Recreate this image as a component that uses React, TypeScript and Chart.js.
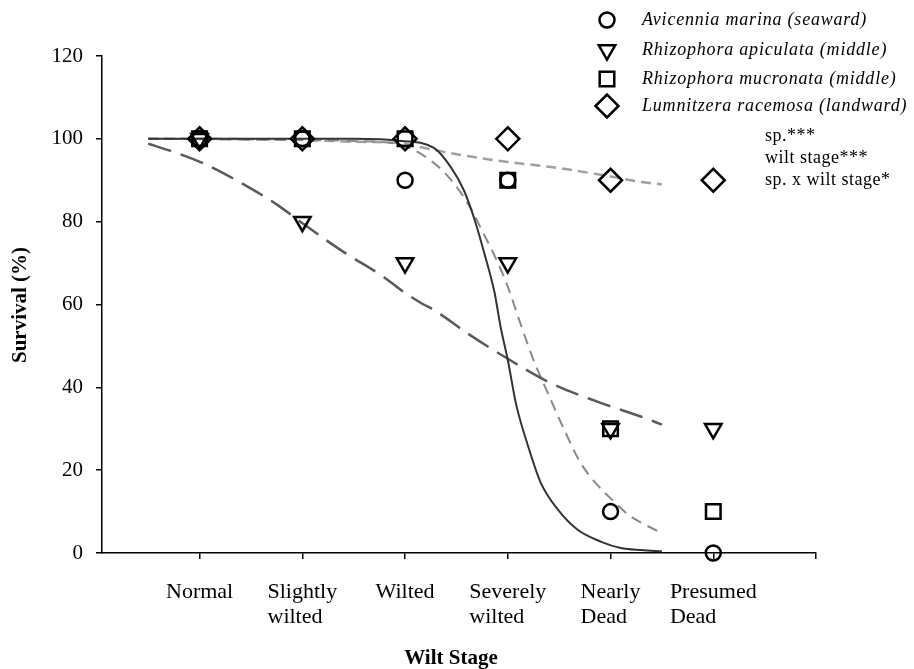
import React, { useEffect, useRef } from 'react';
import { Chart, registerables } from 'chart.js';
import { drawPoint } from 'chart.js/helpers';

Chart.register(...registerables);

// ---------- data ----------
const categories: string[][] = [
  ['Normal'],
  ['Slightly', 'wilted'],
  ['Wilted'],
  ['Severely', 'wilted'],
  ['Nearly', 'Dead'],
  ['Presumed', 'Dead'],
];
const stageX = [1, 2, 3, 4, 5, 6];

const speciesNames = [
  'Avicennia marina (seaward)',
  'Rhizophora apiculata (middle)',
  'Rhizophora mucronata (middle)',
  'Lumnitzera racemosa (landward)',
];

const avicenniaSurvival = [100, 100, 90, 90, 10, 0];
const apiculataSurvival = [100, 80, 70, 70, 30, 30];
const mucronataSurvival = [100, 100, 100, 90, 30, 10];
const lumnitzeraSurvival = [100, 100, 100, 100, 90, 90];

const yTickValues = [0, 20, 40, 60, 80, 100, 120];
const annotationLines = ['sp.***', 'wilt stage***', 'sp. x wilt stage*'];

// fitted curves
const avicenniaFitX = [0.5, 1, 1.5, 2, 2.5, 2.96, 3.28, 3.45, 3.57, 3.67, 3.77, 3.87, 3.93, 4.0, 4.08, 4.2, 4.32, 4.49, 4.68, 4.91, 5.1, 5.3, 5.5];
const avicenniaFitY = [100, 100, 100, 100, 100, 99.5, 97.8, 93, 87.7, 81, 72.5, 63, 54.6, 46.6, 36, 25.6, 17, 10.4, 5.6, 2.7, 1.2, 0.7, 0.4];

const apiculataFitX = [0.5, 0.74, 1.07, 1.4, 1.76, 1.98, 2.4, 2.79, 2.96, 3.18, 3.28, 3.61, 4.0, 4.42, 4.91, 5.3, 5.5];
const apiculataFitY = [98.8, 96.9, 93.7, 89.4, 84, 80, 72.7, 66.7, 63.5, 60, 58.7, 53, 46.9, 41, 36.2, 32.9, 31];

const mucronataFitX = [0.5, 1, 1.5, 2, 2.5, 2.96, 3.28, 3.47, 3.63, 3.76, 3.89, 4.0, 4.12, 4.25, 4.39, 4.55, 4.71, 4.88, 5.03, 5.17, 5.3, 5.5];
const mucronataFitY = [100, 99.9, 99.8, 99.7, 99.5, 98.5, 94.2, 89.4, 83.6, 77.3, 70.8, 64.3, 55.6, 46.6, 38.6, 29.7, 21.7, 16.2, 12.5, 9.3, 7.3, 4.8];

const lumnitzeraFitX = [0.5, 1, 1.5, 2, 2.5, 2.96, 3.28, 3.67, 4.0, 4.42, 4.91, 5.3, 5.5];
const lumnitzeraFitY = [100, 100, 99.9, 99.7, 99.3, 98.9, 97.3, 95.6, 94.4, 93.2, 91.3, 89.6, 89];

// ---------- styles ----------
const markerStyles = [
  { pointStyle: 'circle', rotation: 0, radius: 7.5 },
  { pointStyle: 'triangle', rotation: 180, radius: 9.5 },
  { pointStyle: 'rect', rotation: 0, radius: 10.3 },
  { pointStyle: 'rectRot', rotation: 0, radius: 11.5 },
];
const FONT = '"Liberation Serif", "Times New Roman", serif';

const toPts = (xs: number[], ys: number[]) => xs.map((x, i) => ({ x, y: ys[i] }));

const textPlugin = {
  id: 'customTexts',
  afterDraw(chart: any) {
    const ctx: CanvasRenderingContext2D = chart.ctx;
    const xs = chart.scales.x;
    ctx.save();
    ctx.fillStyle = '#000';

    // category labels (block centred on tick, lines left-aligned)
    ctx.font = `22px ${FONT}`;
    ctx.textAlign = 'left';
    ctx.textBaseline = 'alphabetic';
    categories.forEach((lines, i) => {
      const px = xs.getPixelForValue(stageX[i]);
      const w = Math.max(...lines.map((l) => ctx.measureText(l).width));
      lines.forEach((l, j) => ctx.fillText(l, px - w / 2, 598 + j * 25));
    });

    // axis titles
    ctx.font = `bold 21px ${FONT}`;
    ctx.textAlign = 'center';
    ctx.fillText('Wilt Stage', 451, 664);
    ctx.save();
    ctx.translate(21, 305);
    ctx.rotate(-Math.PI / 2);
    ctx.textBaseline = 'middle';
    ctx.fillText('Survival (%)', 0, 0);
    ctx.restore();

    // legend
    const legendY = [20, 50, 79, 106];
    speciesNames.forEach((name, i) => {
      const m = markerStyles[i];
      ctx.save();
      ctx.strokeStyle = '#000';
      ctx.fillStyle = 'rgba(0,0,0,0)';
      ctx.lineWidth = 2.5;
      drawPoint(ctx, { pointStyle: m.pointStyle as any, rotation: m.rotation, radius: m.radius, borderWidth: 2.5 }, 607, legendY[i]);
      ctx.restore();
      ctx.font = `italic 18px ${FONT}`;
      (ctx as any).letterSpacing = '0.8px';
      ctx.textAlign = 'left';
      ctx.textBaseline = 'middle';
      ctx.fillText(name, 642, legendY[i]);
    });

    // significance annotation
    ctx.font = `18px ${FONT}`;
    (ctx as any).letterSpacing = '0.5px';
    ctx.textAlign = 'left';
    ctx.textBaseline = 'alphabetic';
    annotationLines.forEach((t, i) => ctx.fillText(t, 765, 141 + i * 22));
    ctx.restore();
  },
};

export default function App() {
  const ref = useRef<HTMLCanvasElement | null>(null);

  useEffect(() => {
    if (!ref.current) return;
    const survival = [avicenniaSurvival, apiculataSurvival, mucronataSurvival, lumnitzeraSurvival];
    const scatterSets = survival.map((vals, i) => ({
      type: 'scatter' as const,
      label: speciesNames[i],
      data: toPts(stageX, vals),
      pointStyle: markerStyles[i].pointStyle as any,
      rotation: markerStyles[i].rotation,
      pointRadius: markerStyles[i].radius,
      pointBorderColor: '#000',
      pointBackgroundColor: 'rgba(0,0,0,0)',
      pointBorderWidth: 2.5,
      showLine: false,
      clip: false as any,
    }));
    const lineBase = { type: 'line' as const, pointRadius: 0, fill: false, cubicInterpolationMode: 'monotone' as const };
    const lineSets = [
      { ...lineBase, label: 'Avicennia fit', data: toPts(avicenniaFitX, avicenniaFitY), borderColor: '#333333', borderWidth: 2, borderDash: [] as number[] },
      { ...lineBase, label: 'apiculata fit', data: toPts(apiculataFitX, apiculataFitY), borderColor: '#5a5a5a', borderWidth: 2.5, borderDash: [24, 10] },
      { ...lineBase, label: 'mucronata fit', data: toPts(mucronataFitX, mucronataFitY), borderColor: '#8a8a8a', borderWidth: 2, borderDash: [11, 7] },
      { ...lineBase, label: 'Lumnitzera fit', data: toPts(lumnitzeraFitX, lumnitzeraFitY), borderColor: '#a0a0a0', borderWidth: 2.5, borderDash: [10, 6] },
    ];

    const chart = new Chart(ref.current, {
      type: 'scatter',
      data: { datasets: [...scatterSets, ...lineSets] as any },
      options: {
        animation: false,
        responsive: false,
        devicePixelRatio: 1,
        layout: { padding: { left: 0, right: 98, top: 56, bottom: 0 } },
        plugins: { legend: { display: false }, tooltip: { enabled: false } },
        scales: {
          x: {
            type: 'linear',
            min: 0.05,
            max: 7,
            afterBuildTicks: (scale: any) => {
              scale.ticks = [1, 2, 3, 4, 5, 6, 7].map((v) => ({ value: v }));
            },
            afterFit: (scale: any) => {
              scale.height = 116;
            },
            ticks: { display: false },
            grid: { drawOnChartArea: false, drawTicks: true, tickLength: 6, color: '#000', lineWidth: 1.5 },
            border: { display: true, color: '#000', width: 1.5 },
          },
          y: {
            type: 'linear',
            min: 0,
            max: 120,
            afterBuildTicks: (scale: any) => {
              scale.ticks = yTickValues.map((v) => ({ value: v }));
            },
            afterFit: (scale: any) => {
              scale.width = 102;
            },
            ticks: { color: '#000', font: { family: FONT, size: 21 }, padding: 13 },
            grid: { drawOnChartArea: false, drawTicks: true, tickLength: 6, color: '#000', lineWidth: 1.5 },
            border: { display: true, color: '#000', width: 1.5 },
          },
        },
      } as any,
      plugins: [textPlugin],
    });
    return () => chart.destroy();
  }, []);

  return (
    <div style={{ position: 'absolute', left: 0, top: 0, width: 914, height: 669, background: '#fff' }}>
      <canvas ref={ref} width={914} height={669} style={{ display: 'block' }} />
    </div>
  );
}
